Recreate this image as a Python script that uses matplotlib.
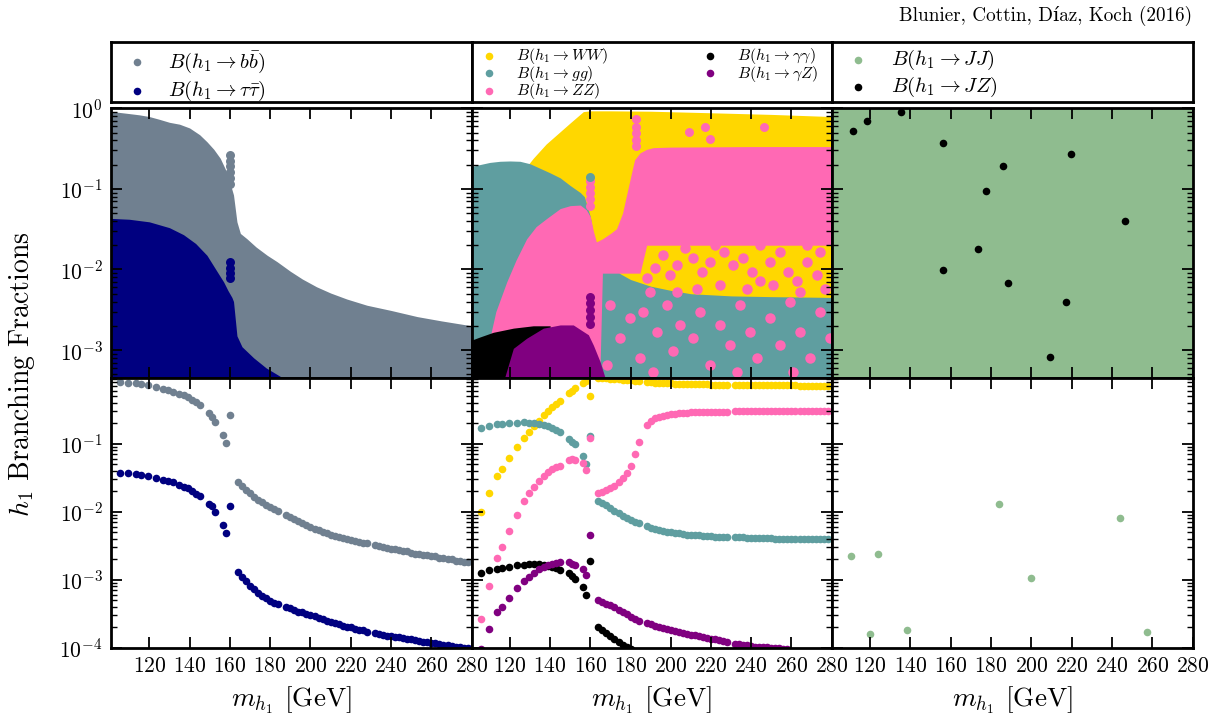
import matplotlib
matplotlib.use("Agg")
import matplotlib.pyplot as plt
import numpy as np
from matplotlib.ticker import FixedLocator, LogLocator, NullLocator

# ---------------- data ----------------
# lower panels: benchmark scan, low-mass branch (m < 161 GeV)
m_lo = [105.5, 109.5, 113.5, 116, 119.5, 123.5, 127, 129.5, 132, 134.5, 137,
        139, 141, 143, 145, 149.5, 151, 152.5, 156.5, 158, 160]
bb_lo = [0.80, 0.79, 0.77, 0.76, 0.73, 0.68, 0.64, 0.61, 0.58, 0.54, 0.51,
         0.48, 0.44, 0.41, 0.37, 0.28, 0.25, 0.21, 0.135, 0.103, 0.26]
tau_lo = [0.0375, 0.037, 0.036, 0.035, 0.0335, 0.031, 0.029, 0.028, 0.027, 0.025, 0.023,
          0.022, 0.020, 0.018, 0.017, 0.013, 0.012, 0.010, 0.0064, 0.0048, 0.012]
ww_lo = [0.010, 0.019, 0.033, 0.042, 0.062, 0.09, 0.12, 0.15, 0.18, 0.215, 0.26,
         0.30, 0.34, 0.38, 0.42, 0.55, 0.60, 0.66, 0.78, 0.82, 0.50]
gg_lo = [0.168, 0.18, 0.192, 0.196, 0.20, 0.204, 0.205, 0.204, 0.20, 0.195, 0.188,
         0.18, 0.17, 0.16, 0.15, 0.118, 0.107, 0.097, 0.066, 0.05, 0.13]
zz_lo = [2.6e-4, 8.0e-4, 0.0021, 0.0030, 0.0052, 0.0089, 0.0145, 0.019, 0.023, 0.028, 0.033,
         0.038, 0.042, 0.045, 0.047, 0.058, 0.059, 0.058, 0.052, 0.041, 0.12]
aa_lo = [1.24e-3, 1.38e-3, 1.45e-3, 1.5e-3, 1.55e-3, 1.62e-3, 1.66e-3, 1.68e-3, 1.69e-3, 1.69e-3, 1.67e-3,
         1.6e-3, 1.52e-3, 1.46e-3, 1.39e-3, 1.24e-3, 1.12e-3, 1.02e-3, 7.9e-4, 6.0e-4, 1.9e-3]
az_lo = [9.5e-5, 1.9e-4, 3.3e-4, 4.0e-4, 5.3e-4, 7.5e-4, 9.6e-4, 1.1e-3, 1.25e-3, 1.42e-3, 1.55e-3,
         1.62e-3, 1.7e-3, 1.75e-3, 1.8e-3, 1.8e-3, 1.72e-3, 1.62e-3, 1.42e-3, 1.18e-3, 4.5e-3]

# lower panels: high-mass branch (m > 163 GeV)
m_hi = [164, 166, 168, 170, 172, 174, 176, 178, 180, 182, 184,
        188, 190, 192, 194, 196, 198, 200, 202, 204, 206, 208, 210, 212, 214, 216, 218, 220, 222, 224, 226, 228,
        232, 234, 236, 238, 240, 242, 244, 246, 248, 250, 252, 254, 256, 258, 260, 262, 264, 266, 268, 270,
        272, 274, 276, 278]
bb_hi = [0.027, 0.024, 0.021, 0.0185, 0.0165, 0.0150, 0.0137, 0.0126, 0.0117, 0.0110, 0.0103,
         0.0090, 0.0084, 0.0078, 0.0072, 0.0067, 0.0063, 0.0059, 0.0056, 0.0053, 0.0050, 0.0048, 0.0046,
         0.0044, 0.0043, 0.0041, 0.0040, 0.0038, 0.0037, 0.0036, 0.0035, 0.0034,
         0.0032, 0.0031, 0.0030, 0.0029, 0.0028, 0.0028, 0.0027, 0.0026, 0.0026, 0.0025, 0.0024, 0.0024,
         0.0023, 0.0023, 0.0022, 0.0022, 0.0021, 0.0021, 0.0020, 0.0020, 0.0019, 0.0019, 0.0018, 0.0018]
tau_hi = [0.00128, 0.00110, 0.00095, 0.00082, 0.00072, 0.00064, 0.00058, 0.00053, 0.00049, 0.00046, 0.00044,
          0.00040, 0.00038, 0.00036, 0.00034, 0.00033, 0.00031, 0.00030, 0.00029, 0.00027, 0.00026, 0.00025,
          0.00024, 0.00023, 0.00022, 0.00021, 0.00020, 0.00020, 0.00019, 0.00018, 0.00018, 0.00017,
          0.000165, 0.00016, 0.000155, 0.00015, 0.000148, 0.000146, 0.000143, 0.00014, 0.000136, 0.000132,
          0.000129, 0.000126, 0.000123, 0.00012, 0.000118, 0.000116, 0.000113, 0.000111, 0.000108, 0.000106,
          0.000104, 0.000102, 0.0001, 0.000098]
ww_hi = [0.92, 0.92, 0.91, 0.90, 0.89, 0.88, 0.87, 0.86, 0.85, 0.84, 0.83,
         0.81, 0.80, 0.79, 0.78, 0.775, 0.77, 0.765, 0.76, 0.755, 0.75, 0.75, 0.745, 0.745, 0.74, 0.74,
         0.74, 0.735, 0.735, 0.735, 0.73, 0.73,
         0.73, 0.73, 0.725, 0.725, 0.725, 0.72, 0.72, 0.72, 0.72, 0.72, 0.715, 0.715, 0.715, 0.715, 0.715,
         0.715, 0.71, 0.71, 0.71, 0.71, 0.71, 0.71, 0.71, 0.71]
gg_hi = [0.0145, 0.0135, 0.0124, 0.0114, 0.0103, 0.0094, 0.0087, 0.0080, 0.0075, 0.0071, 0.0067,
         0.0061, 0.0058, 0.0056, 0.0054, 0.0052, 0.0051, 0.0050, 0.0049, 0.0048, 0.0047, 0.0046, 0.0046,
         0.0045, 0.0045, 0.0044, 0.0044, 0.0044, 0.0043, 0.0043, 0.0043, 0.0042,
         0.0042, 0.0042, 0.0042, 0.0041, 0.0041, 0.0041, 0.0041, 0.0041, 0.0041, 0.0041, 0.0040, 0.0040,
         0.0040, 0.0040, 0.0040, 0.0040, 0.0040, 0.0040, 0.0039, 0.0039, 0.0039, 0.0039, 0.0039, 0.0039]
zz_hi = [0.0185, 0.0195, 0.0205, 0.022, 0.024, 0.027, 0.031, 0.037, 0.047, 0.070, 0.105,
         0.19, 0.215, 0.235, 0.248, 0.258, 0.265, 0.27, 0.275, 0.28, 0.283, 0.286, 0.288, 0.29, 0.291,
         0.292, 0.293, 0.294, 0.295, 0.295, 0.296, 0.296,
         0.297, 0.297, 0.298, 0.298, 0.299, 0.299, 0.3, 0.3, 0.3, 0.301, 0.301, 0.301, 0.302, 0.302,
         0.302, 0.303, 0.303, 0.303, 0.304, 0.304, 0.304, 0.305, 0.305, 0.305]
m_aa_hi = [164, 166, 168, 170, 172, 174, 176, 178, 180]
aa_hi = [2.0e-4, 1.8e-4, 1.62e-4, 1.48e-4, 1.32e-4, 1.2e-4, 1.1e-4, 1.02e-4, 0.95e-4]
m_az_hi = [164, 166, 168, 170, 172, 174, 176, 178, 180, 182, 184,
           188, 190, 192, 194, 196, 198, 200, 202, 204, 206, 208, 210, 212, 214, 216, 218, 220, 222, 224, 226, 228,
           232, 234, 236, 238, 240, 242, 244, 246, 248, 250, 252, 254, 256, 258]
az_hi = [5.0e-4, 4.7e-4, 4.45e-4, 4.2e-4, 3.9e-4, 3.6e-4, 3.35e-4, 3.1e-4, 2.85e-4, 2.65e-4, 2.5e-4,
         2.3e-4, 2.2e-4, 2.1e-4, 2.0e-4, 1.93e-4, 1.87e-4, 1.8e-4, 1.75e-4, 1.7e-4, 1.65e-4, 1.6e-4, 1.55e-4,
         1.52e-4, 1.48e-4, 1.44e-4, 1.4e-4, 1.36e-4, 1.32e-4, 1.28e-4, 1.24e-4, 1.2e-4,
         1.15e-4, 1.12e-4, 1.1e-4, 1.08e-4, 1.06e-4, 1.04e-4, 1.03e-4, 1.02e-4, 1.01e-4, 1.0e-4, 0.99e-4,
         0.98e-4, 0.97e-4, 0.96e-4]

# lower right: exotic JJ points
m_jj = [110.8, 119.9, 124.2, 138.3, 183.9, 200.0, 243.9, 257.1]
jj = [0.00225, 1.6e-4, 0.0024, 1.84e-4, 0.0129, 0.00105, 0.0080, 1.7e-4]

# upper panels: random scan, drawn as filled envelopes of the point clouds
floor = 1e-5
bb_env_m = [101, 105, 110, 115, 120, 125, 130, 135, 140, 145, 148.6, 152, 155.2, 158.5, 160, 161.8,
            163.5, 165.2, 168.5, 173, 178.5, 183.4, 190, 196, 203, 210, 218, 228, 240, 253, 265, 280]
bb_env = [0.91, 0.89, 0.86, 0.83, 0.79, 0.73, 0.67, 0.635, 0.57, 0.47, 0.385, 0.31, 0.24, 0.16, 0.12, 0.084,
          0.039, 0.028, 0.024, 0.019, 0.015, 0.0125, 0.0095, 0.0076, 0.0061, 0.0051, 0.0043, 0.0036,
          0.0031, 0.0026, 0.0023, 0.0020]
tau_env_m = [101, 110, 120, 130, 137, 143, 148.6, 153, 156.9, 159, 161, 161.8, 163.5, 166, 171.8, 178, 187]
tau_env = [0.043, 0.042, 0.039, 0.033, 0.027, 0.021, 0.015, 0.010, 0.0070, 0.0055, 0.0045, 0.004,
           0.0015, 0.0011, 0.0008, 0.0006, 0.00044]
bb_spk_m = [160, 160, 160, 160, 160, 160]
bb_spk = [0.26, 0.22, 0.19, 0.16, 0.135, 0.115]
tau_spk_m = [160, 160, 160, 160]
tau_spk = [0.0125, 0.0105, 0.009, 0.0078]

ww_env_m = [101, 110, 120, 126, 131.6, 138, 144.9, 150, 156.5, 160, 170, 190, 220, 250, 280]
ww_env = [0.03, 0.05, 0.10, 0.16, 0.24, 0.36, 0.51, 0.66, 0.91, 0.93, 0.93, 0.92, 0.88, 0.84, 0.79]
gg_env_m = [101, 105, 110, 115, 120, 125, 130, 135, 140, 145, 150, 155, 157, 160, 163, 170, 175, 180,
            190, 200, 210, 230, 250, 280]
gg_env = [0.19, 0.20, 0.213, 0.22, 0.222, 0.22, 0.205, 0.18, 0.158, 0.137, 0.11, 0.09, 0.08, 0.045, 0.015,
          0.011, 0.0088, 0.0075, 0.0062, 0.0055, 0.005, 0.0047, 0.0046, 0.0045]
zz_env_m = [106, 108, 110, 113, 118.4, 123, 128.3, 133, 138.3, 145, 150, 155, 158, 160, 161.5, 163, 166,
            170, 173, 176, 178, 180.6, 182, 184.7, 188, 191.3, 200, 240, 280]
zz_env = [4.0e-4, 8e-4, 1.4e-3, 3e-3, 0.007, 0.013, 0.024, 0.034, 0.043, 0.057, 0.062, 0.063, 0.055, 0.045,
          0.03, 0.022, 0.024, 0.028, 0.032, 0.05, 0.084, 0.163, 0.23, 0.28, 0.31, 0.325, 0.33, 0.335, 0.335]
zz_env_lo = [1e-5, 1e-5, 1e-5, 1e-5, 1e-5, 1e-5, 1e-5, 1e-5, 1e-5, 1e-5, 1e-5, 1e-5, 1e-5, 1e-5, 1e-5,
             1e-5, 0.009, 0.009, 0.009, 0.009, 0.009, 0.009, 0.009, 0.009, 0.02, 0.02, 0.02, 0.02, 0.02]
aa_env_m = [101, 105, 111.7, 121.7, 131.6, 140]
aa_env = [1.33e-3, 1.45e-3, 1.66e-3, 1.87e-3, 2.0e-3, 2.0e-3]
az_env_m = [116.7, 121.7, 128.3, 136.6, 145, 151.5, 156.5, 159, 161.5, 164.8, 168]
az_env = [4.0e-4, 1.05e-3, 1.4e-3, 1.87e-3, 2.05e-3, 2.05e-3, 1.7e-3, 1.55e-3, 1.15e-3, 7.2e-4, 4.0e-4]
# isolated points sticking out of the clouds
zz_pts_m = [159.8, 159.8, 159.8, 159.8, 159.8, 182.7, 182.7, 182.7, 182.7, 182.7,
            209.2, 217.0, 219.5, 246.5]
zz_pts = [0.125, 0.105, 0.088, 0.074, 0.062, 0.74, 0.59, 0.49, 0.40, 0.34, 0.51, 0.59, 0.416, 0.59]
gg_pts_m = [159.8]
gg_pts = [0.14]
az_pts_m = [159.8, 159.8, 159.8, 159.8, 159.8]
az_pts = [0.0046, 0.0038, 0.0031, 0.0026, 0.0021]
zz_pts_y_m = [222.0, 226.5, 219.5, 215.4, 211.2, 207.1, 202.9, 199.6, 196.3, 192.2, 188.0, 231.1, 236.1,
              240.2, 244.4, 249.3, 254.3, 258.5, 262.6, 267.6, 272.5, 276.7, 264.3, 251.0, 237.7, 224.5,
              212.9, 202.9, 189.7, 267.6, 274.2, 244.4, 231.1]
zz_pts_y = [0.0201, 0.0167, 0.0125, 0.0094, 0.0138, 0.0183, 0.0114, 0.0086, 0.0151, 0.0103, 0.0078,
            0.0114, 0.0138, 0.0094, 0.0071, 0.0125, 0.0167, 0.0094, 0.0071, 0.0125, 0.0086, 0.0058,
            0.0053, 0.0064, 0.0058, 0.0064, 0.0058, 0.0053, 0.0053, 0.0201, 0.0167, 0.0201, 0.0244]
zz_pts_t_m = [169.8, 179.7, 174.7, 186.3, 193.0, 184.7, 197.9, 204.6, 201.3, 211.2, 214.5, 219.5, 224.5,
              229.4, 234.4, 239.4, 242.7, 249.3, 254.3, 259.3, 264.3, 269.2, 274.2, 279.2, 168.1, 191.3,
              232.8, 260.9]
zz_pts_t = [0.00363, 0.00248, 0.0014, 0.0030, 0.00169, 0.00079, 0.00363, 0.00205, 0.00096, 0.0014,
            0.0030, 0.00065, 0.00205, 0.00116, 0.00363, 0.00169, 0.00079, 0.00248, 0.00116, 0.0040,
            0.00169, 0.00079, 0.0030, 0.0014, 0.00065, 0.00054, 0.00054, 0.00054]

jj_env_m = [101, 280]
jj_env = [1.0, 1.0]
m_jz = [111.4, 118.7, 135.5, 156.0, 156.0, 173.6, 177.6, 186.0, 188.5, 209.2, 217.0, 219.6, 246.3]
jz = [0.52, 0.70, 0.89, 0.37, 0.0098, 0.018, 0.093, 0.194, 0.0067, 0.00083, 0.0040, 0.27, 0.040]

c_bb, c_tau = "#708090", "#000080"
c_ww, c_gg, c_zz, c_aa, c_az = "#FFD700", "#5F9EA0", "#FF69B4", "black", "#800080"
c_jj, c_jz = "#8FBC8F", "black"

# ---------------- figure ----------------
plt.rcParams.update({
    "font.family": "serif",
    "font.serif": ["cmr10"],
    "mathtext.fontset": "cm",
    "axes.formatter.use_mathtext": True,
    "axes.unicode_minus": False,
})

W, H = 1223, 715
fig = plt.figure(figsize=(W / 100, H / 100), dpi=100)


def rect(l, t, r, b):
    return [l / W, 1 - b / H, (r - l) / W, (b - t) / H]


cols = [(111, 471.7), (471.7, 831.7), (831.7, 1192.7)]
leg_axes, up_axes, lo_axes = [], [], []
for i, (l, r) in enumerate(cols):
    leg_axes.append(fig.add_axes(rect(l, 42.3, r, 102.3)))
    up_axes.append(fig.add_axes(rect(l, 108.3, r, 378)))
    lo_axes.append(fig.add_axes(rect(l, 378, r, 647.7)))


def style(ax, upper, first):
    ax.set_yscale("log")
    ax.set_xlim(101, 280)
    ax.set_ylim((4.5e-4, 1.0) if upper else (1e-4, 0.92))
    ax.xaxis.set_major_locator(FixedLocator(range(120, 281, 20)))
    ax.xaxis.set_minor_locator(NullLocator())
    ax.yaxis.set_major_locator(LogLocator(base=10, numticks=12))
    ax.yaxis.set_minor_locator(LogLocator(base=10, subs=np.arange(2, 10), numticks=12))
    ax.tick_params(which="both", direction="in", top=True, right=True, labelsize=15.5)
    ax.tick_params(which="major", length=8, width=1.3, pad=6)
    ax.tick_params(which="minor", length=4, width=1)
    for s in ax.spines.values():
        s.set_linewidth(2)
    if upper:
        ax.tick_params(labelbottom=False)
    else:
        ax.set_xlabel(r"$m_{h_1}$ [GeV]", fontsize=19.5, labelpad=6)
    if not first:
        ax.tick_params(labelleft=False)


for i in range(3):
    style(up_axes[i], True, i == 0)
    style(lo_axes[i], False, i == 0)
    leg_axes[i].set_xticks([])
    leg_axes[i].set_yticks([])
    for s in leg_axes[i].spines.values():
        s.set_linewidth(2)

S_LO, S_UP = 30, 42

# left column: b bbar and tau tau
ax = up_axes[0]
ax.fill_between(bb_env_m, floor, bb_env, color=c_bb, lw=0)
ax.scatter(bb_spk_m, bb_spk, s=S_UP, color=c_bb, lw=0)
ax.fill_between(tau_env_m, floor, tau_env, color=c_tau, lw=0)
ax.scatter(tau_spk_m, tau_spk, s=S_UP, color=c_tau, lw=0)

ax = lo_axes[0]
h_bb = ax.scatter(m_lo + m_hi, bb_lo + bb_hi, s=S_LO, color=c_bb, lw=0)
h_tau = ax.scatter(m_lo + m_hi, tau_lo + tau_hi, s=S_LO, color=c_tau, lw=0)

# middle column: WW, gg, ZZ, gamma gamma, gamma Z
ax = up_axes[1]
ax.fill_between(ww_env_m, floor, ww_env, color=c_ww, lw=0)
ax.fill_between(gg_env_m, floor, gg_env, color=c_gg, lw=0)
ax.fill_between(zz_env_m, zz_env_lo, zz_env, color=c_zz, lw=0)
ax.scatter(zz_pts_m, zz_pts, s=S_UP, color=c_zz, lw=0)
ax.scatter(zz_pts_y_m, zz_pts_y, s=S_UP * 1.35, color=c_zz, lw=0)
ax.scatter(zz_pts_t_m, zz_pts_t, s=S_UP * 1.35, color=c_zz, lw=0)
ax.scatter(gg_pts_m, gg_pts, s=S_UP, color=c_gg, lw=0)
ax.fill_between(aa_env_m, floor, aa_env, color=c_aa, lw=0)
ax.fill_between(az_env_m, floor, az_env, color=c_az, lw=0)
ax.scatter(az_pts_m, az_pts, s=S_UP, color=c_az, lw=0)

ax = lo_axes[1]
h_ww = ax.scatter(m_lo + m_hi, ww_lo + ww_hi, s=S_LO, color=c_ww, lw=0)
h_gg = ax.scatter(m_lo + m_hi, gg_lo + gg_hi, s=S_LO, color=c_gg, lw=0)
h_zz = ax.scatter(m_lo + m_hi, zz_lo + zz_hi, s=S_LO, color=c_zz, lw=0)
h_aa = ax.scatter(m_lo + m_aa_hi, aa_lo + aa_hi, s=S_LO, color=c_aa, lw=0)
h_az = ax.scatter(m_lo + m_az_hi, az_lo + az_hi, s=S_LO, color=c_az, lw=0)

# right column: exotic JJ, JZ
ax = up_axes[2]
ax.fill_between(jj_env_m, floor, jj_env, color=c_jj, lw=0)
h_jz = ax.scatter(m_jz, jz, s=S_LO, color=c_jz, lw=0)

ax = lo_axes[2]
h_jj = ax.scatter(m_jj, jj, s=S_LO, color=c_jj, lw=0)

# legends in the boxes above the panels
common = dict(loc="upper left", frameon=False, scatterpoints=1, borderpad=0, borderaxespad=0,
              handlelength=1.0)
leg_axes[0].legend([h_bb, h_tau],
                   [r"$B(h_1 \rightarrow b\bar{b})$", r"$B(h_1 \rightarrow \tau\bar{\tau})$"],
                   bbox_to_anchor=(0.044, 0.88), fontsize=14.8, handletextpad=1.0,
                   labelspacing=0.2, **common)
leg_axes[1].legend([h_ww, h_gg, h_zz, h_aa, h_az],
                   [r"$B(h_1 \rightarrow WW)$", r"$B(h_1 \rightarrow gg)$", r"$B(h_1 \rightarrow ZZ)$",
                    r"$B(h_1 \rightarrow \gamma\gamma)$", r"$B(h_1 \rightarrow \gamma Z)$"],
                   bbox_to_anchor=(0.027, 0.935), fontsize=11.5, ncol=2, handletextpad=1.15,
                   labelspacing=-0.16, columnspacing=5.9, **common)
leg_axes[2].legend([h_jj, h_jz],
                   [r"$B(h_1 \rightarrow JJ)$", r"$B(h_1 \rightarrow JZ)$"],
                   bbox_to_anchor=(0.045, 0.9), fontsize=15, handletextpad=1.05,
                   labelspacing=0.12, **common)

fig.text(22 / W, 1 - 374 / H, r"$h_1$ Branching Fractions", rotation=90, ha="center", va="center",
         fontsize=20)
fig.text(1192 / W, 1 - 16 / H, "Blunier, Cottin, Díaz, Koch (2016)", ha="right", va="center",
         fontsize=13.8, family=["cmr10", "DejaVu Serif"])

fig.savefig("out.png", dpi=100)
